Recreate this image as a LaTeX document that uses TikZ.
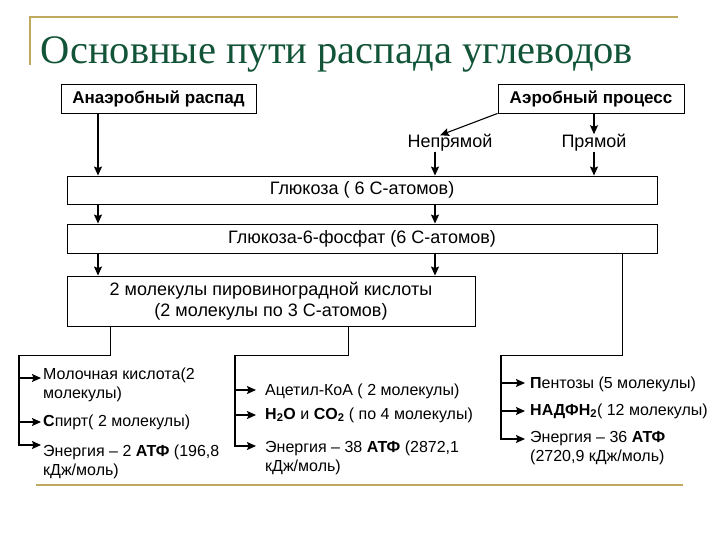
\documentclass[tikz,border=0pt]{standalone}
\usepackage{fontspec}
\setmainfont{Liberation Sans}
\newfontfamily\titlefont{Liberation Serif}
\usetikzlibrary{arrows.meta}
\definecolor{gold}{RGB}{190,170,95}
\definecolor{titlegreen}{RGB}{18,84,56}
\tikzset{
  box/.style={draw, line width=0.9pt, rectangle, inner sep=0pt, font=\fontsize{18}{21}\selectfont, align=center},
  hbox/.style={box, font=\bfseries\fontsize{17}{20}\selectfont},
  lbl/.style={inner sep=0pt, font=\fontsize{18}{21}\selectfont},
  item/.style={inner sep=0pt, anchor=west, align=left, font=\fontsize{16}{19.5}\selectfont},
  arr/.style={line width=1.1pt, -{Stealth[length=9pt,width=8pt,inset=1.5pt]}},
  tline/.style={line width=1pt},
  goldline/.style={gold, line width=2pt}
}
\begin{document}
\begin{tikzpicture}[x=1pt,y=-1pt]
\useasboundingbox (0,0) rectangle (720,540);
% frame
\draw[goldline] (30,65) -- (30,17.5) -- (678,17.5);
\draw[goldline] (36,485) -- (683,485);
\node[font=\titlefont\fontsize{40.5}{46}\selectfont, text=titlegreen, inner sep=0pt] (title) at (337,54) {Основные пути распада углеводов};
% boxes
\node[hbox, minimum width=195, minimum height=29] (anaer) at (158.5,98.5) {Анаэробный распад};
\node[hbox, minimum width=186, minimum height=29] (aer) at (591,98.5) {Аэробный процесс};
\node[lbl] (nepr) at (450,143) {Непрямой};
\node[lbl] (pryam) at (594,143) {Прямой};
\node[box, minimum width=590, minimum height=28] (glu) at (362,190) {Глюкоза ( 6 С-атомов)};
\node[box, minimum width=590, minimum height=29] (g6p) at (362,238.5) {Глюкоза-6-фосфат (6 С-атомов)};
\node[box, minimum width=408, minimum height=50] (pyr) at (271,301) {2 молекулы пировиноградной кислоты\\(2 молекулы по 3 С-атомов)};
% column coordinates
\coordinate (cA) at (98,0);
\coordinate (cB) at (435,0);
\coordinate (cC) at (594,0);
\coordinate (cD) at (622,0);
\coordinate (cE) at (110,0);
\coordinate (cF) at (348,0);
\coordinate (tL) at (19,355);
\coordinate (tM) at (235,355);
\coordinate (tR) at (501,355);
% top arrows
\draw[arr] (anaer.south -| cA) -- (glu.north -| cA);
\draw[arr] (aer.south west) -- ([xshift=-10pt,yshift=-1pt]nepr.north);
\draw[arr] (aer.south -| cC) -- (pryam.north -| cC);
\draw[arr] (nepr.south -| cB) -- (glu.north -| cB);
\draw[arr] (pryam.south -| cC) -- (glu.north -| cC);
\draw[arr] (glu.south -| cA) -- (g6p.north -| cA);
\draw[arr] (glu.south -| cB) -- (g6p.north -| cB);
\draw[arr] (g6p.south -| cA) -- (pyr.north -| cA);
\draw[arr] (g6p.south -| cB) -- (pyr.north -| cB);
% left items
\node[item] (m1) at (43,385) {Молочная кислота(2\\молекулы)};
\node[item] (s1) at (43,422) {\textbf{С}пирт( 2 молекулы)};
\node[item] (e1) at (43,462) {Энергия – 2 \textbf{АТФ} (196,8\\кДж/моль)};
\coordinate (m1a) at ([xshift=-2pt,yshift=7pt]m1.west);
\coordinate (s1a) at ([xshift=-2pt]s1.west);
\coordinate (e1a) at ([xshift=-2pt,yshift=17pt]e1.west);
\draw[tline] (pyr.south -| cE) |- (tL);
\draw[arr] (tL) |- (e1a);
\draw[arr] (tL |- m1a) -- (m1a);
\draw[arr] (tL |- s1a) -- (s1a);
% middle items
\node[item] (a2) at (265,391) {Ацетил-КоА ( 2 молекулы)};
\node[item] (h2) at (265,415) {\textbf{H\textsubscript{2}O} и \textbf{CO\textsubscript{2}} ( по 4 молекулы)};
\node[item] (e2) at (265,458) {Энергия – 38 \textbf{АТФ} (2872,1\\кДж/моль)};
\coordinate (a2a) at ([xshift=-9pt,yshift=1pt]a2.west);
\coordinate (h2a) at ([xshift=-9pt]h2.west);
\coordinate (e2a) at ([xshift=-9pt,yshift=12pt]e2.west);
\draw[tline] (pyr.south -| cF) |- (tM);
\draw[arr] (tM) |- (e2a);
\draw[arr] (tM |- a2a) -- (a2a);
\draw[arr] (tM |- h2a) -- (h2a);
% right items
\node[item] (p3) at (530,384) {\textbf{П}ентозы (5 молекулы)};
\node[item] (n3) at (530,411) {\textbf{НАДФН\textsubscript{2}}( 12 молекулы)};
\node[item] (e3) at (530,448) {Энергия – 36 \textbf{АТФ}\\(2720,9 кДж/моль)};
\coordinate (p3a) at ([xshift=-5pt,yshift=1pt]p3.west);
\coordinate (n3a) at ([xshift=-5pt]n3.west);
\coordinate (e3a) at ([xshift=-5pt,yshift=9pt]e3.west);
\draw[tline] (g6p.south -| cD) |- (tR);
\draw[arr] (tR) |- (e3a);
\draw[arr] (tR |- p3a) -- (p3a);
\draw[arr] (tR |- n3a) -- (n3a);
\end{tikzpicture}
\end{document}
